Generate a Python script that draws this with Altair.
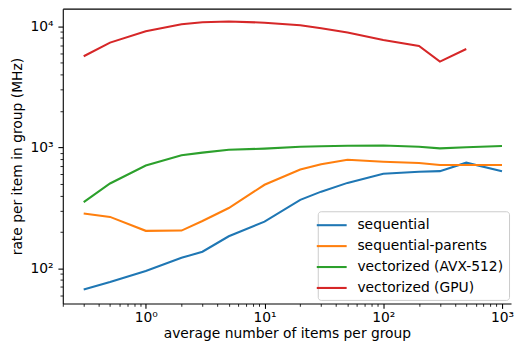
import altair as alt
import pandas as pd

x_vals = [0.3, 0.5, 1, 2, 3, 5, 10, 20, 30, 50, 100, 200, 300, 500, 1000]
sequential = [66.8, 77, 95, 122, 137, 184, 243, 368, 430, 508, 604, 627, 635, 746, 635]
sequential_parents = [284, 266, 204, 205, 246, 315, 490, 655, 725, 789, 760, 742, 715, 715, 715]
vectorized_avx = [352, 502, 706, 860, 904, 955, 975, 1010, 1020, 1030, 1035, 1010, 980, 1000, 1025]
vectorized_gpu = [5650, 7330, 9110, 10380, 10800, 10970, 10700, 10200, 9640, 8900, 7710, 6890, 5110, 6490]

series_names = ["sequential", "sequential-parents", "vectorized (AVX-512)", "vectorized (GPU)"]
series_colors = ["#1f77b4", "#ff7f0e", "#2ca02c", "#d62728"]
series_values = [sequential, sequential_parents, vectorized_avx, vectorized_gpu]

rows = []
for name, vals in zip(series_names, series_values):
    for xv, yv in zip(x_vals, vals):
        rows.append({"x": xv, "y": yv, "series": name})
df = pd.DataFrame(rows)

x_ticks = [0.2, 0.3, 0.4, 0.5, 0.6, 0.7, 0.8, 0.9, 1,
           2, 3, 4, 5, 6, 7, 8, 9, 10,
           20, 30, 40, 50, 60, 70, 80, 90, 100,
           200, 300, 400, 500, 600, 700, 800, 900, 1000]
y_ticks = [60, 70, 80, 90, 100, 200, 300, 400, 500, 600, 700, 800, 900, 1000,
           2000, 3000, 4000, 5000, 6000, 7000, 8000, 9000, 10000]

FONT = "DejaVu Sans"
FS = 13.9
major_test = "indexof([1, 10, 100, 1000, 10000], datum.value) >= 0"
tick_size = {"condition": {"test": major_test, "value": 4.9}, "value": 2.8}
tick_width = {"condition": {"test": major_test, "value": 1.1}, "value": 0.85}

x_label = ("datum.value == 1 ? '10⁰' : datum.value == 10 ? '10¹' : "
           "datum.value == 100 ? '10²' : datum.value == 1000 ? '10³' : ''")
y_label = ("datum.value == 100 ? '10²' : datum.value == 1000 ? '10³' : "
           "datum.value == 10000 ? '10⁴' : ''")

xscale = alt.Scale(type="log", domain=[0.2, 1191], nice=False)
yscale = alt.Scale(type="log", domain=[51.2, 13984], nice=False)

lines = alt.Chart(df).mark_line(strokeWidth=2.08, clip=True).encode(
    x=alt.X("x:Q", scale=xscale,
            axis=alt.Axis(title="average number of items per group", values=x_ticks,
                          labelExpr=x_label, tickSize=tick_size, tickWidth=tick_width,
                          labelPadding=2, titlePadding=2, labelOverlap=False,
                          labelFlush=False, grid=False)),
    y=alt.Y("y:Q", scale=yscale,
            axis=alt.Axis(title="rate per item in group (MHz)", values=y_ticks,
                          labelExpr=y_label, tickSize=tick_size, tickWidth=tick_width,
                          labelPadding=4.9, titlePadding=5.5, labelOverlap=False,
                          labelFlush=False, grid=False)),
    color=alt.Color("series:N",
                    scale=alt.Scale(domain=series_names, range=series_colors),
                    legend=alt.Legend(title=None, orient="none", legendX=256, legendY=203.4,
                                      symbolType="M-2,0H2", symbolSize=225,
                                      symbolStrokeWidth=2.08, labelOffset=16.8,
                                      rowPadding=5, padding=5,
                                      fillColor="rgba(255,255,255,0.8)",
                                      strokeColor="#cccccc", cornerRadius=3,
                                      labelFontSize=FS, labelFont=FONT,
                                      labelColor="black")),
    order="x:Q",
)

top = alt.Chart(df).mark_line(opacity=0).encode(
    x=alt.X("x:Q", scale=xscale,
            axis=alt.Axis(orient="top", title=None, labels=False, ticks=False,
                          domain=True, grid=False)),
    y=alt.Y("y:Q", scale=yscale, axis=None),
)

chart = alt.layer(lines, top).resolve_axis(x="independent", y="independent").properties(
    width=450, height=296,
    padding={"left": 2, "top": 0, "right": 0, "bottom": 0},
).configure(background="white").configure_view(stroke=None).configure_axis(
    labelFont=FONT, labelFontSize=FS, titleFont=FONT, titleFontSize=FS,
    titleFontWeight="normal", labelColor="black", titleColor="black",
    domainColor="black", domainWidth=1.1, tickColor="black",
)

chart.save("out.html", embed_options={"renderer": "svg", "actions": False})
